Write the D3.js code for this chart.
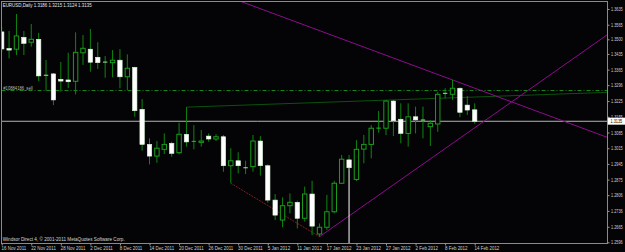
<!DOCTYPE html>
<html><head><meta charset="utf-8">
<script src="https://cdn.jsdelivr.net/npm/d3@7"></script>
<style>html,body{margin:0;padding:0;background:#000;overflow:hidden}svg{display:block}</style>
</head><body>
<script>
const dates = ["16 Nov 2011","17 Nov 2011","18 Nov 2011","21 Nov 2011","22 Nov 2011","23 Nov 2011","24 Nov 2011","25 Nov 2011","28 Nov 2011","29 Nov 2011","30 Nov 2011",
"1 Dec 2011","2 Dec 2011","5 Dec 2011","6 Dec 2011","7 Dec 2011","8 Dec 2011","9 Dec 2011","12 Dec 2011","13 Dec 2011","14 Dec 2011","15 Dec 2011","16 Dec 2011","19 Dec 2011","20 Dec 2011","21 Dec 2011","22 Dec 2011","23 Dec 2011","26 Dec 2011","27 Dec 2011","28 Dec 2011","29 Dec 2011","30 Dec 2011",
"2 Jan 2012","3 Jan 2012","4 Jan 2012","5 Jan 2012","6 Jan 2012","9 Jan 2012","10 Jan 2012","11 Jan 2012","12 Jan 2012","13 Jan 2012","16 Jan 2012","17 Jan 2012","18 Jan 2012","19 Jan 2012","20 Jan 2012","23 Jan 2012","24 Jan 2012","25 Jan 2012","26 Jan 2012","27 Jan 2012","30 Jan 2012","31 Jan 2012",
"1 Feb 2012","2 Feb 2012","3 Feb 2012","6 Feb 2012","7 Feb 2012","8 Feb 2012","9 Feb 2012","10 Feb 2012","13 Feb 2012","14 Feb 2012"];

const open = [1.3533,1.3459,1.3456,1.3509,1.3487,1.3500,1.3341,1.3346,1.3322,1.3319,1.3313,
1.3440,1.3456,1.3420,1.3399,1.3396,1.3407,1.3333,1.3375,1.3188,1.3032,1.2980,1.3010,1.3037,1.2995,1.3077,1.3044,1.3041,1.3069,1.3056,1.3066,1.2937,1.2959,
1.2929,1.2933,1.3047,1.2937,1.2784,1.2695,1.2759,1.2774,1.2703,1.2811,1.2633,1.2663,1.2732,1.2859,1.2963,1.2876,1.3011,1.3032,1.3104,1.3104,1.3225,1.3144,
1.3081,1.3155,1.3141,1.3111,1.3123,1.3260,1.3255,1.3282,1.3207,1.3186];
const high = [1.3555,1.3537,1.3613,1.3537,1.3568,1.3529,1.3408,1.3350,1.3399,1.3440,1.3531,
1.3519,1.3546,1.3487,1.3426,1.3452,1.3456,1.3433,1.3378,1.3234,1.3059,1.3047,1.3081,1.3044,1.3129,1.3198,1.3118,1.3096,1.3081,1.3077,1.3074,1.3015,1.2997,
1.2959,1.3074,1.3069,1.2943,1.2811,1.2796,1.2814,1.2781,1.2844,1.2870,1.2680,1.2807,1.2870,1.2985,1.2985,1.3051,1.3074,1.3118,1.3181,1.3230,1.3230,1.3215,
1.3215,1.3200,1.3200,1.3141,1.3265,1.3282,1.3319,1.3286,1.3248,1.3215];
const low = [1.3443,1.3415,1.3430,1.3430,1.3467,1.3314,1.3271,1.3207,1.3267,1.3282,1.3255,
1.3386,1.3356,1.3368,1.3329,1.3331,1.3282,1.3274,1.3155,1.3004,1.2943,1.2950,1.2989,1.2977,1.2988,1.3022,1.3010,1.3022,1.3044,1.3047,1.2910,1.2859,1.2903,
1.2900,1.2910,1.2893,1.2772,1.2695,1.2663,1.2725,1.2658,1.2688,1.2628,1.2621,1.2651,1.2725,1.2856,1.2920,1.2869,1.2948,1.2970,1.3084,1.3074,1.3069,1.3037,
1.3022,1.3081,1.3059,1.3025,1.3088,1.3237,1.3230,1.3153,1.3163,1.3124];
const close = [1.3457,1.3452,1.3515,1.3482,1.3500,1.3337,1.3339,1.3230,1.3314,1.3311,1.3442,
1.3460,1.3398,1.3396,1.3398,1.3407,1.3333,1.3371,1.3182,1.3032,1.2980,1.3015,1.3032,1.2992,1.3077,1.3043,1.3047,1.3047,1.3056,1.3066,1.2937,1.2959,1.2937,
1.2927,1.3047,1.2937,1.2784,1.2717,1.2759,1.2774,1.2703,1.2811,1.2668,1.2663,1.2732,1.2859,1.2966,1.2928,1.3010,1.3032,1.3104,1.3105,1.3225,1.3137,1.3081,
1.3155,1.3141,1.3140,1.3126,1.3255,1.3259,1.3282,1.3175,1.3185,1.3135];

const priceTicks = [1.3635,1.3565,1.3500,1.3435,1.3365,1.3296,1.3225,1.3155,1.3085,1.3015,1.2945,1.2875,1.2806,1.2736,1.2665,1.2596];
const priceTickLabels = ["1.3635","1.3565","1.3500","1.3435","1.3365","1.3296","1.3225","1.3155","1.3085","1.3015","1.2945","1.2875","1.2806","1.2736","1.2665","1.2596"];
const timeTickEvery = 4;
const lastPrice = 1.3135;
const lastPriceLabel = "1.3135";
const sellLevel = 1.3272;
const sellLabel = "#10884186_sell";
const trendPurpleDown = [[32, 1.3673], [61, 1.3319]];
const trendPurpleUp = [[43, 1.2621], [64, 1.3106]];
const trendRed = [[31, 1.2859], [43, 1.2621]];
const trendGreen = [[25, 1.3198], [64, 1.3243]];
const markerBar = 47;
const headerText = "EURUSD,Daily  1.3186 1.3215 1.3124 1.3135";
const footerText = "Windsor Direct 4, \u00A9 2001-2011 MetaQuotes Software Corp.";

const W = 625, H = 252;
const L = 1.5, R = 607.5, T = 1.5, B = 243.5;

const svg = d3.select("body").append("svg").attr("width", W).attr("height", H)
  .style("background", "#040406");
svg.append("rect").attr("width", W).attr("height", H).attr("fill", "#040406");

const x = d3.scaleLinear().domain([0, 64]).range([1.7, 474.7]);
const y = d3.scaleLinear().domain([1.2596, 1.3635]).range([242.3, 9]);

svg.append("defs").append("clipPath").attr("id", "plot")
  .append("rect").attr("x", L).attr("y", T).attr("width", R - L).attr("height", B - T);

const plot = svg.append("g").attr("clip-path", "url(#plot)");
const font = "'Liberation Sans', Arial, sans-serif";

// sell level dash-dot
plot.append("line").attr("x1", L).attr("x2", R).attr("y1", y(sellLevel)).attr("y2", y(sellLevel))
  .attr("stroke", "#178517").attr("stroke-width", 1).attr("stroke-dasharray", "4,2,1,2");
plot.append("text").attr("x", 3.3).attr("y", y(sellLevel) - 0.8).text(sellLabel)
  .attr("fill", "#b8b8b8").attr("font-family", font).attr("font-size", 4.6)
  .attr("textLength", 29.3).attr("lengthAdjust", "spacingAndGlyphs");

// bid line
plot.append("line").attr("x1", L).attr("x2", R).attr("y1", y(lastPrice)).attr("y2", y(lastPrice))
  .attr("stroke", "#b4b4b4").attr("stroke-width", 1);

// trend lines
const xMaxBar = x.invert(R + 2);
function ray(pts) {
  const [[b1, p1], [b2, p2]] = pts;
  const s = (p2 - p1) / (b2 - b1);
  return [[b1, p1], [xMaxBar, p1 + s * (xMaxBar - b1)]];
}
function drawLine(pts, color, dash) {
  const l = plot.append("line")
    .attr("x1", x(pts[0][0])).attr("y1", y(pts[0][1]))
    .attr("x2", x(pts[1][0])).attr("y2", y(pts[1][1]))
    .attr("stroke", color).attr("stroke-width", 1);
  if (dash) l.attr("stroke-dasharray", dash);
}
drawLine(ray(trendGreen), "#0b520b");
drawLine(trendRed, "#7e1e1e", "2,1");
drawLine(ray(trendPurpleDown), "#8e0c8e");
drawLine(ray(trendPurpleUp), "#8e0c8e");

// marker line
plot.append("line").attr("x1", x(markerBar)).attr("x2", x(markerBar))
  .attr("y1", y(close[markerBar])).attr("y2", B)
  .attr("stroke", "#ffffff").attr("stroke-width", 1);

// candles
const idx = d3.range(open.length);
const bw = 4.4;
const g = plot.append("g");
g.selectAll("line.wick").data(idx).join("line").attr("class", "wick")
  .attr("x1", i => x(i)).attr("x2", i => x(i))
  .attr("y1", i => y(high[i])).attr("y2", i => y(low[i]))
  .attr("stroke", "#0f840f").attr("stroke-width", 1);
idx.forEach(i => {
  const yo = y(open[i]), yc = y(close[i]);
  const top = Math.min(yo, yc), h = Math.abs(yo - yc);
  if (h < 1.2) {
    g.append("line").attr("x1", x(i) - bw / 2).attr("x2", x(i) + bw / 2)
      .attr("y1", (yo + yc) / 2).attr("y2", (yo + yc) / 2)
      .attr("stroke", close[i] < open[i] ? "#9be89b" : "#25c025").attr("stroke-width", 1);
  } else if (close[i] < open[i]) {
    g.append("rect").attr("x", x(i) - bw / 2).attr("y", top).attr("width", bw).attr("height", h)
      .attr("fill", "#ffffff").attr("stroke", "#dff5df").attr("stroke-width", 0.6);
  } else {
    g.append("rect").attr("x", x(i) - bw / 2).attr("y", top).attr("width", bw).attr("height", h)
      .attr("fill", "#040406").attr("stroke", "#1b9e1b").attr("stroke-width", 1);
  }
});

// frame
svg.append("rect").attr("x", L).attr("y", T).attr("width", R - L).attr("height", B - T)
  .attr("fill", "none").attr("stroke", "#8a8a8a").attr("stroke-width", 1);

// price axis
const ya = svg.append("g").attr("transform", `translate(${R},0)`)
  .call(d3.axisRight(y).tickValues(priceTicks).tickFormat((d, i) => priceTickLabels[i]).tickSize(2).tickPadding(1.5));
ya.select(".domain").remove();
ya.selectAll(".tick line").attr("stroke", "#9a9a9a");
ya.selectAll(".tick text").attr("fill", "#cfcfcf").attr("font-family", font).attr("font-size", 4.8)
  .attr("dy", "0.34em").attr("textLength", 11.7).attr("lengthAdjust", "spacingAndGlyphs");

// last price box
svg.append("rect").attr("x", R + 0.3).attr("y", y(lastPrice) - 3.6).attr("width", W - R).attr("height", 7)
  .attr("fill", "#ffffff");
svg.append("text").attr("x", R + 3).attr("y", y(lastPrice) + 1.8).text(lastPriceLabel)
  .attr("fill", "#000").attr("font-family", font).attr("font-size", 4.8)
  .attr("textLength", 11.7).attr("lengthAdjust", "spacingAndGlyphs");

// time axis
const tickIdx = d3.range(0, dates.length, timeTickEvery);
const xa = svg.append("g").attr("transform", `translate(0,${B})`)
  .call(d3.axisBottom(x).tickValues(tickIdx).tickFormat(i => dates[i]).tickSize(2));
xa.select(".domain").remove();
xa.selectAll(".tick line").attr("stroke", "#9a9a9a");
xa.selectAll(".tick text").attr("fill", "#cfcfcf").attr("font-family", font).attr("font-size", 4.8)
  .attr("text-anchor", "start").attr("x", -0.6).attr("y", 6.1).attr("dy", "0")
  .attr("textLength", i => dates[i].length * 2.2 + 0.5).attr("lengthAdjust", "spacingAndGlyphs");

// header & footer
svg.append("text").attr("x", 2.7).attr("y", 7.3).text(headerText)
  .attr("fill", "#e6e6e6").attr("font-family", font).attr("font-size", 5.4)
  .attr("textLength", 89).attr("lengthAdjust", "spacingAndGlyphs");
svg.append("text").attr("x", 2.7).attr("y", 241).text(footerText)
  .attr("fill", "#d6d6d6").attr("font-family", font).attr("font-size", 5)
  .attr("textLength", 122).attr("lengthAdjust", "spacingAndGlyphs");
</script>
</body></html>
